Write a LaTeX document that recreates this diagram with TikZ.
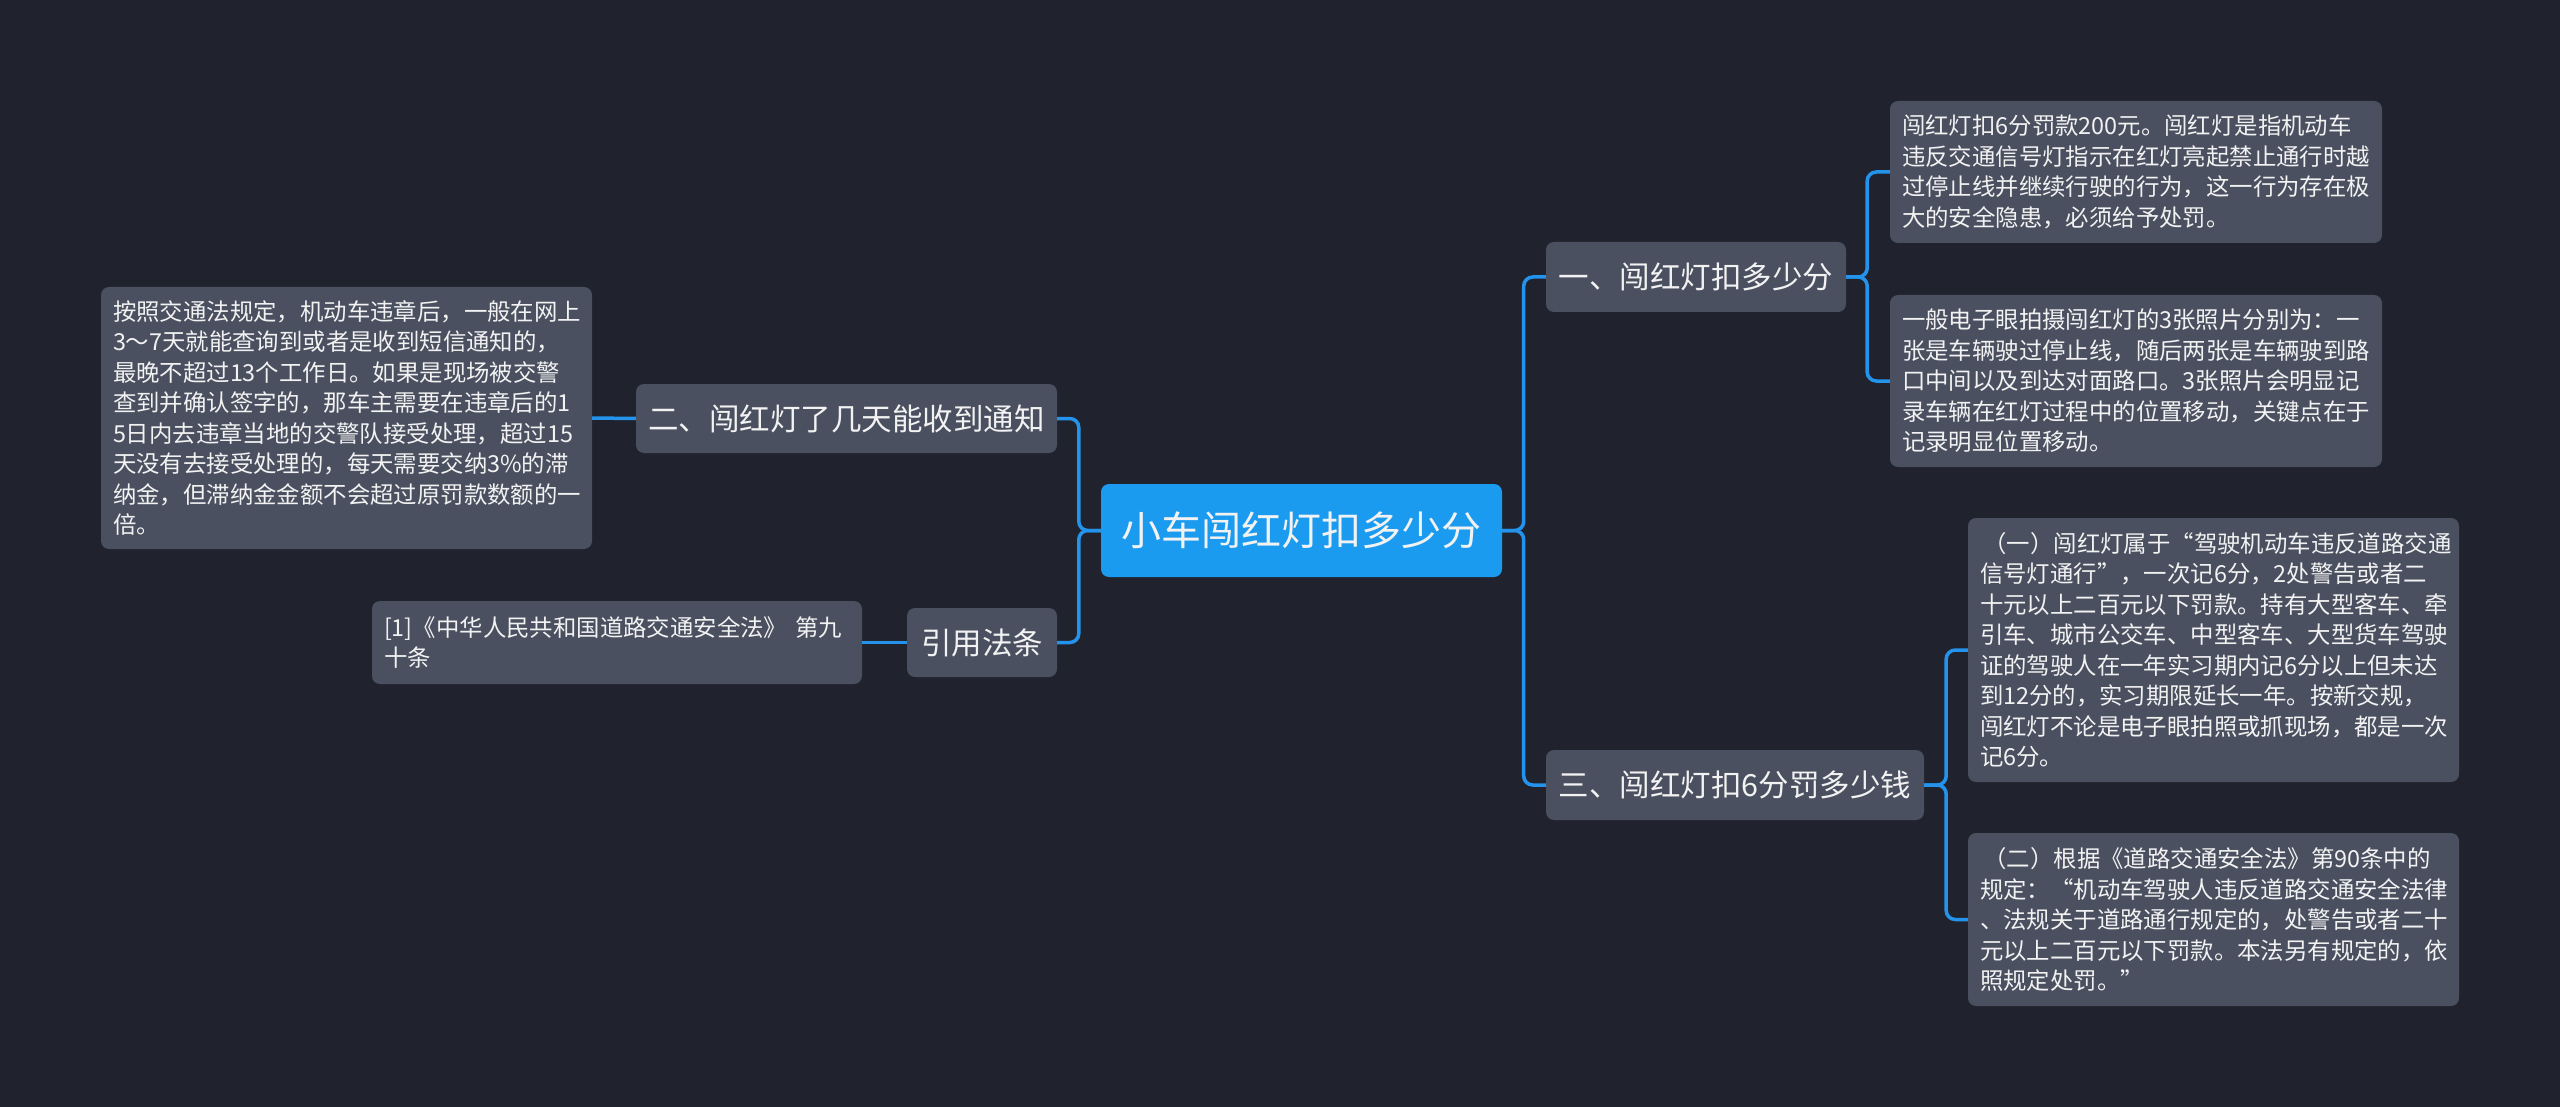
\documentclass[tikz,border=0pt]{standalone}
\usepackage{fontspec}
\setmainfont{Noto Sans CJK SC}
\definecolor{bg}{HTML}{20232D}
\definecolor{nodefill}{HTML}{4A5060}
\definecolor{mainblue}{HTML}{1B9BF0}
\definecolor{linecol}{HTML}{2393EC}
\definecolor{txt}{HTML}{F2F2F2}
\tikzset{
  base/.style={rounded corners=8pt, fill=nodefill, text=txt, inner sep=0pt},
  rootbox/.style={base, fill=mainblue, font=\fontsize{40}{48}\selectfont, minimum width=401pt, minimum height=93pt, align=center},
  topicbox/.style={base, font=\fontsize{30.5}{36}\selectfont, minimum height=70pt, align=center},
  leafbox/.style={base, font=\fontsize{23.4}{30.5}\selectfont, inner xsep=12pt, align=left},
  conn/.style={draw=linecol, line width=3.5pt, rounded corners=9pt}
}
\begin{document}
\begin{tikzpicture}[x=1pt,y=-1pt]
\useasboundingbox (0,0) rectangle (2560,1107);
\fill[bg] (0,0) rectangle (2560,1107);

\node[rootbox] (c) at (1301.5,530.5) {小车闯红灯扣多少分};

\node[topicbox, minimum width=300pt] (n1) at (1696,277) {一、闯红灯扣多少分};
\node[topicbox, minimum width=378pt] (n3) at (1735,785) {三、闯红灯扣6分罚多少钱};
\node[topicbox, minimum width=421pt, minimum height=69pt] (n2) at (846.5,418.5) {二、闯红灯了几天能收到通知};
\node[topicbox, minimum width=150pt, minimum height=69pt] (nref) at (982,642.5) {引用法条};

\node[leafbox, text width=468pt, minimum height=142pt] (l1) at (2136,172) {闯红灯扣6分罚款200元。闯红灯是指机动车\\违反交通信号灯指示在红灯亮起禁止通行时越\\过停止线并继续行驶的行为，这一行为存在极\\大的安全隐患，必须给予处罚。};
\node[leafbox, text width=468pt, minimum height=172pt] (l2) at (2136,381) {一般电子眼拍摄闯红灯的3张照片分别为：一\\张是车辆驶过停止线，随后两张是车辆驶到路\\口中间以及到达对面路口。3张照片会明显记\\录车辆在红灯过程中的位置移动，关键点在于\\记录明显位置移动。};
\node[leafbox, text width=467pt, minimum height=264pt] (l3) at (2213.5,650) {\hspace*{0.15em}（一）闯红灯属于“驾驶机动车违反道路交通\\信号灯通行”，一次记6分，2处警告或者二\\十元以上二百元以下罚款。持有大型客车、牵\\引车、城市公交车、中型客车、大型货车驾驶\\证的驾驶人在一年实习期内记6分以上但未达\\到12分的，实习期限延长一年。按新交规，\\闯红灯不论是电子眼拍照或抓现场，都是一次\\记6分。};
\node[leafbox, text width=467pt, minimum height=173pt] (l4) at (2213.5,919.5) {\hspace*{0.15em}（二）根据《道路交通安全法》第90条中的\\规定：“机动车驾驶人违反道路交通安全法律\\、法规关于道路通行规定的，处警告或者二十\\元以上二百元以下罚款。本法另有规定的，依\\照规定处罚。”};
\node[leafbox, text width=467pt, minimum height=262pt] (lL) at (346.5,418) {按照交通法规定，机动车违章后，一般在网上\\3～7天就能查询到或者是收到短信通知的，\\最晚不超过13个工作日。如果是现场被交警\\查到并确认签字的，那车主需要在违章后的1\\5日内去违章当地的交警队接受处理，超过15\\天没有去接受处理的，每天需要交纳3\%的滞\\纳金，但滞纳金金额不会超过原罚款数额的一\\倍。};
\node[leafbox, text width=466pt, minimum height=83pt] (lR) at (617,642.5) {{[1]}《中华人民共和国道路交通安全法》 第九\\十条};

\draw[conn] (c.east) -- ++(21.5,0) |- (n1.west);
\draw[conn] (c.east) -- ++(21.5,0) |- (n3.west);
\draw[conn] (c.west) -- ++(-22,0) |- (n2.east);
\draw[conn] (c.west) -- ++(-22,0) |- (nref.east);
\draw[conn] (n1.east) -- ++(21,0) |- (l1.west);
\draw[conn] (n1.east) -- ++(21,0) |- (l2.west);
\draw[conn] (n3.east) -- ++(22,0) |- (l3.west);
\draw[conn] (n3.east) -- ++(22,0) |- (l4.west);
\draw[conn] (n2.west) -- (lL.east);
\draw[conn] (nref.west) -- (lR.east);
\end{tikzpicture}
\end{document}
